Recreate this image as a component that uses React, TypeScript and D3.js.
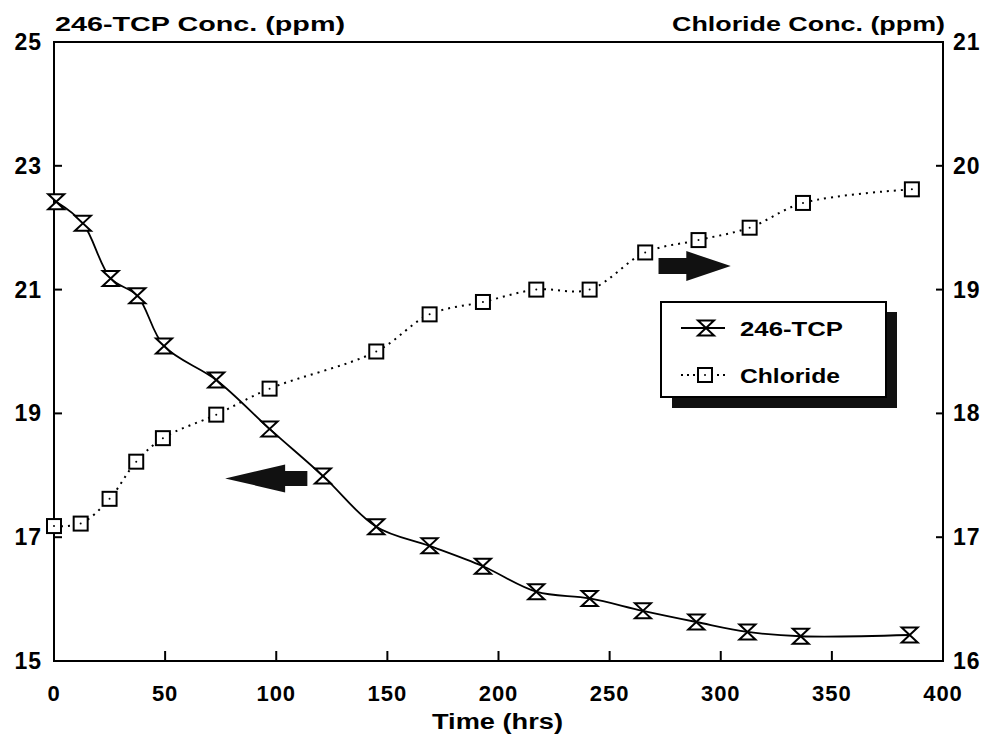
import React from 'react';
import * as d3 from 'd3';

// 246-TCP (left axis, ppm) vs time
const tcpHours = [1, 13, 25.5, 37.5, 49.5, 73, 97, 121, 145, 169, 193, 217, 241, 265, 289, 312, 336, 385];
const tcpConc = [22.42, 22.07, 21.18, 20.9, 20.09, 19.54, 18.75, 17.99, 17.17, 16.86, 16.53, 16.12, 16.01, 15.81, 15.63, 15.47, 15.4, 15.42];

// Chloride (right axis, ppm) vs time
const clHours = [0, 12, 25, 37, 49, 73, 97, 145, 169, 193, 217, 241, 266, 290, 313, 337, 386];
const clConc = [17.09, 17.11, 17.31, 17.61, 17.8, 17.99, 18.2, 18.5, 18.8, 18.9, 19.0, 19.0, 19.3, 19.4, 19.5, 19.7, 19.81];

const xTicks = [0, 50, 100, 150, 200, 250, 300, 350, 400];
const leftTicks = [15, 17, 19, 21, 23, 25];
const rightTicks = [16, 17, 18, 19, 20, 21];

const FONT = '"Liberation Sans", Arial, sans-serif';

export default function App() {
  const x = d3.scaleLinear().domain([0, 400]).range([54, 943]);
  const yL = d3.scaleLinear().domain([15, 25]).range([661, 42]);
  const yR = d3.scaleLinear().domain([16, 21]).range([661, 42]);

  const tcpPts: [number, number][] = tcpHours.map((h, i) => [x(h), yL(tcpConc[i])]);
  const clPts: [number, number][] = clHours.map((h, i) => [x(h), yR(clConc[i])]);
  const line = d3.line().curve(d3.curveCatmullRom.alpha(0.5));

  const hourglass = (w: number, h: number) => `M${-w},${-h}L${w},${-h}L${-w},${h}L${w},${h}Z`;

  // arrow polygons (pointing left for TCP, right for chloride)
  const arrow = (tip: number, base: number, tail: number, cy: number, headH: number, shaftH: number) => {
    const pts = [
      [tip, cy],
      [base, cy - headH / 2],
      [base, cy - shaftH / 2],
      [tail, cy - shaftH / 2],
      [tail, cy + shaftH / 2],
      [base, cy + shaftH / 2],
      [base, cy + headH / 2],
    ];
    return pts.map((p) => p.join(',')).join(' ');
  };

  const xl = x(0), xr = x(400), yt = yL(25), yb = yL(15);

  return (
    <div style={{ position: 'fixed', left: 0, top: 0 }}>
      <svg width={999} height={739} style={{ display: 'block', background: '#fff' }} fontFamily={FONT} fontWeight="bold">
        {/* frame */}
        <rect x={xl} y={yt} width={xr - xl} height={yb - yt} fill="none" stroke="#000" strokeWidth={2} />

        {/* inward ticks */}
        {xTicks.slice(1, -1).map((t) => (
          <line key={'xt' + t} x1={x(t)} x2={x(t)} y1={yb} y2={yb - 10} stroke="#000" strokeWidth={2} />
        ))}
        {leftTicks.slice(1, -1).map((t) => (
          <line key={'lt' + t} x1={xl} x2={xl + 8} y1={yL(t)} y2={yL(t)} stroke="#000" strokeWidth={2} />
        ))}
        {rightTicks.slice(1, -1).map((t) => (
          <line key={'rt' + t} x1={xr} x2={xr - 7} y1={yR(t)} y2={yR(t)} stroke="#000" strokeWidth={2} />
        ))}

        {/* tick labels */}
        {xTicks.map((t) => (
          <text key={'xl' + t} x={x(t)} y={701} textAnchor="middle" fontSize={22} letterSpacing={1}>{t}</text>
        ))}
        {leftTicks.map((t) => (
          <text key={'ll' + t} x={42} y={yL(t) + 8} textAnchor="end" fontSize={23} letterSpacing={1}>{t}</text>
        ))}
        {rightTicks.map((t) => (
          <text key={'rl' + t} x={953} y={yR(t) + 8} textAnchor="start" fontSize={23} letterSpacing={1}>{t}</text>
        ))}

        {/* axis titles */}
        <text x={55} y={31} fontSize={21} textLength={290} lengthAdjust="spacingAndGlyphs">246-TCP Conc. (ppm)</text>
        <text x={672} y={31} fontSize={21} textLength={273} lengthAdjust="spacingAndGlyphs">Chloride Conc. (ppm)</text>
        <text x={432} y={729} fontSize={22} textLength={131} lengthAdjust="spacingAndGlyphs">Time (hrs)</text>

        {/* arrows */}
        <polygon points={arrow(x(77), x(104), x(114), yL(17.95), 28, 15)} fill="#111" />
        <polygon points={arrow(x(304.5), x(284.5), x(272), yR(19.19), 30, 16)} fill="#111" />

        {/* series lines */}
        <path d={line(clPts) || ''} fill="none" stroke="#000" strokeWidth={2} strokeDasharray="2 5" />
        <path d={line(tcpPts) || ''} fill="none" stroke="#000" strokeWidth={1.8} />

        {/* markers */}
        {clPts.map(([cx, cy], i) => (
          <g key={'cm' + i} transform={`translate(${cx},${cy})`}>
            <rect x={-7} y={-7} width={14} height={14} fill="#fff" stroke="#000" strokeWidth={2} />
            <circle r={1} fill="#000" />
          </g>
        ))}
        {tcpPts.map(([cx, cy], i) => (
          <path key={'tm' + i} transform={`translate(${cx},${cy})`} d={hourglass(8, 7.5)} fill="#fff" stroke="#000" strokeWidth={2} strokeLinejoin="miter" />
        ))}

        {/* legend */}
        <rect x={672} y={312} width={225} height={96} fill="#111" />
        <rect x={661} y={302} width={225} height={95} fill="#fff" stroke="#000" strokeWidth={2} />
        <line x1={681} x2={725} y1={328} y2={328} stroke="#000" strokeWidth={1.8} />
        <path transform="translate(706,328)" d={hourglass(8, 7.5)} fill="#fff" stroke="#000" strokeWidth={2} />
        <text x={740} y={336} fontSize={20} textLength={103} lengthAdjust="spacingAndGlyphs">246-TCP</text>
        <line x1={681} x2={729} y1={375} y2={375} stroke="#000" strokeWidth={2} strokeDasharray="2 4" />
        <g transform="translate(705,375)">
          <rect x={-7} y={-7} width={14} height={14} fill="#fff" stroke="#000" strokeWidth={2} />
          <circle r={1} fill="#000" />
        </g>
        <text x={740} y={383} fontSize={20} textLength={100} lengthAdjust="spacingAndGlyphs">Chloride</text>
      </svg>
    </div>
  );
}
